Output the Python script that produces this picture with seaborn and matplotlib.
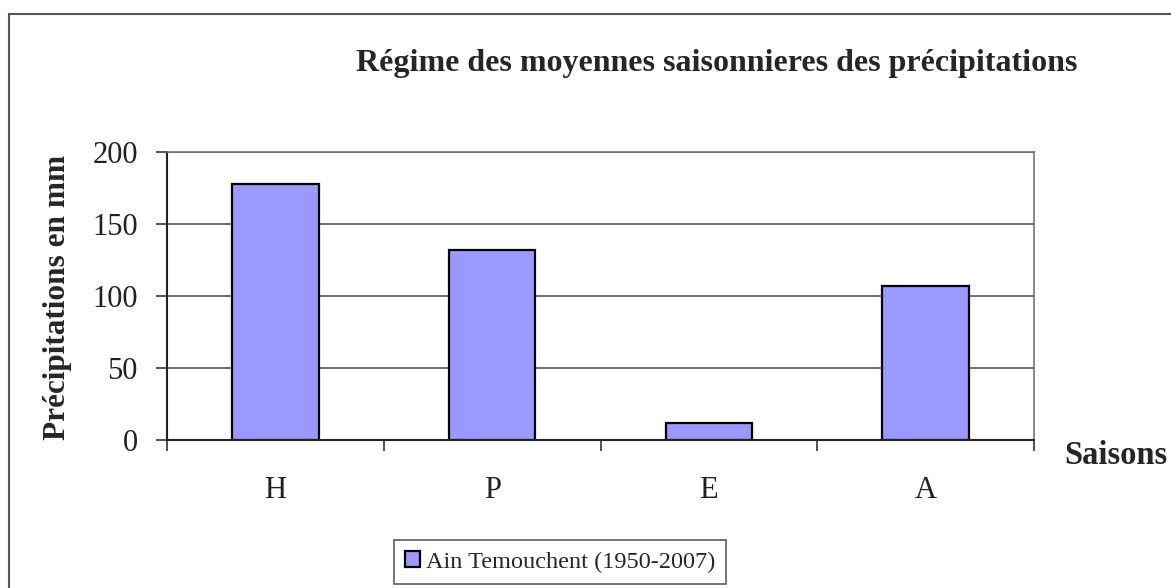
import matplotlib
matplotlib.use("Agg")
import matplotlib.pyplot as plt
import seaborn as sns
import pandas as pd
from matplotlib.lines import Line2D

# ==============================
#  DATA
# ==============================
saisons = ["H", "P", "E", "A"]
precip = [178, 132, 12, 107]
serie = "Ain Temouchent (1950-2007)"
yticks = [0, 50, 100, 150, 200]

df = pd.DataFrame({"Saison": saisons, "Precip": precip})

# ==============================
#  STYLE
# ==============================
sns.set_style("white")
plt.rcParams["font.family"] = ["Liberation Serif", "DejaVu Serif"]

W, H = 1171, 588
fig = plt.figure(figsize=(W / 100, H / 100), dpi=100)
ax = fig.add_axes([167 / W, 1 - 440 / H, 867 / W, 288 / H])

sns.barplot(data=df, x="Saison", y="Precip", color="#9999FF",
            edgecolor="black", linewidth=1.6, width=0.4,
            saturation=1, label=serie, ax=ax)

ax.set_ylim(0, 200)
ax.set_xlim(-0.5, 3.5)
ax.set_yticks(yticks)
ax.set_yticklabels([str(v) for v in yticks], fontsize=22, color="#222222")
ax.yaxis.grid(True, color="#555555", linewidth=1.2)
ax.set_axisbelow(True)

# x ticks at category boundaries, labels in the middle
ax.set_xticks([-0.5, 0.5, 1.5, 2.5, 3.5])
ax.set_xticklabels([])
ax.set_xticks(range(len(saisons)), minor=True)
ax.set_xticklabels(saisons, minor=True, fontsize=22, color="#222222")
ax.tick_params(axis="x", which="major", direction="out", length=8,
               width=1.2, color="#333333", bottom=True)
ax.tick_params(axis="x", which="minor", length=0, pad=26)
ax.tick_params(axis="y", direction="out", length=8, width=1.2,
               color="#333333", left=True, pad=13)

for side in ["top", "right"]:
    ax.spines[side].set_color("#777777")
    ax.spines[side].set_linewidth(1.2)
for side in ["left", "bottom"]:
    ax.spines[side].set_color("#222222")
    ax.spines[side].set_linewidth(1.5)

ax.set_xlabel("")
ax.set_ylabel("")

fig.text(57 / W, 1 - 297 / H, "Précipitations en mm", rotation=90,
         ha="center", va="center", fontsize=22.5, fontweight="bold")
fig.text(717 / W, 1 - 64 / H,
         "Régime des moyennes saisonnieres des précipitations",
         ha="center", va="center", fontsize=23, fontweight="bold")
fig.text(1116 / W, 1 - 455 / H, "Saisons", ha="center", va="center",
         fontsize=23.5, fontweight="bold")

# legend below the plot
leg = ax.legend(loc="center", bbox_to_anchor=(560 / W, 1 - 562 / H),
                bbox_transform=fig.transFigure, fontsize=17.5,
                frameon=True, fancybox=False, handlelength=0.6,
                handleheight=0.6, handletextpad=0.25, borderpad=0.45,
                edgecolor="#333333")
leg.get_frame().set_linewidth(1.2)

# outer chart frame (left and top edges visible)
fig.add_artist(Line2D([9 / W, 9 / W], [0, 1 - 14 / H],
                      transform=fig.transFigure, color="#555555", lw=1.5))
fig.add_artist(Line2D([9 / W, 1], [1 - 14 / H, 1 - 14 / H],
                      transform=fig.transFigure, color="#555555", lw=1.5))

fig.savefig("out.png", dpi=100, facecolor="white")
